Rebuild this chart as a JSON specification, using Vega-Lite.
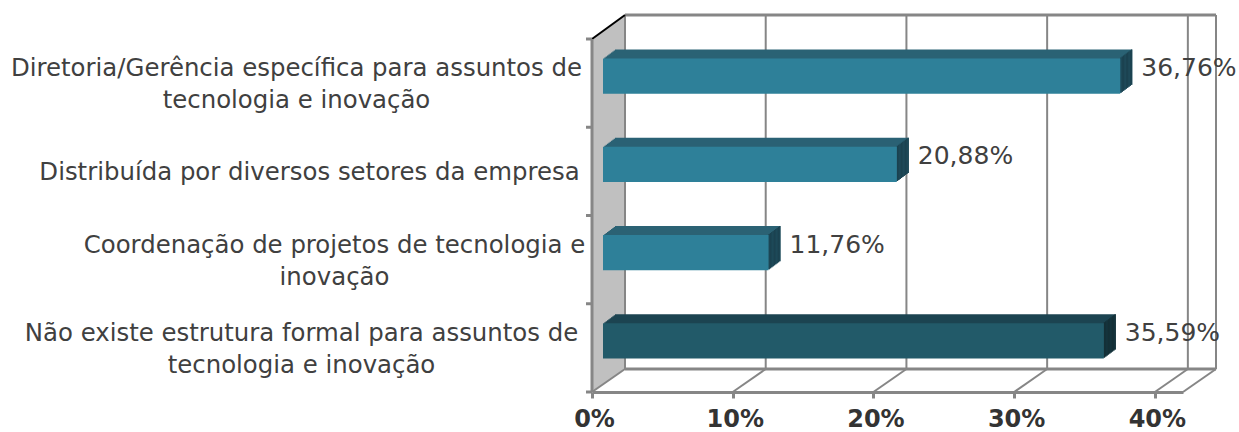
{"$schema":"https://vega.github.io/schema/vega-lite/v6.json","width":591,"height":353,"autosize":{"type":"none"},"padding":{"left":592,"top":39,"right":56,"bottom":40},"background":"white","config":{"view":{"stroke":null}},
"datasets":{"dados":[
{"estrutura":"Diretoria/Gerência específica para assuntos de tecnologia e inovação","valor":36.76,"rotulo":"36,76%","tipo":"formal"},
{"estrutura":"Distribuída por diversos setores da empresa","valor":20.88,"rotulo":"20,88%","tipo":"formal"},
{"estrutura":"Coordenação de projetos de tecnologia e inovação","valor":11.76,"rotulo":"11,76%","tipo":"formal"},
{"estrutura":"Não existe estrutura formal para assuntos de tecnologia e inovação","valor":35.59,"rotulo":"35,59%","tipo":"nenhuma"}],
"marcas":[{"m":0},{"m":10},{"m":20},{"m":30},{"m":40},{"m":42}],
"bandas":[{"b":0},{"b":0.25},{"b":0.5},{"b":0.75},{"b":1}],
"unico":[{"u":1}]},
"layer":[
{"layer":[
{"data":{"name":"unico"},"mark":{"type":"rect","color":"#c0c0c0","x2Offset":33,"y2Offset":-24},"encoding":{
"x":{"datum":0,"type":"quantitative","scale":{"domain":[0,42],"nice":false},"axis":{"values":[0,10,20,30,40],"labelExpr":"datum.value+'%'","grid":false,"domainColor":"#868686","domainWidth":3,"tickColor":"#868686","tickWidth":3,"tickSize":6,"labelFont":"DejaVu Sans","labelFontWeight":"bold","labelFontSize":24,"labelColor":"#333333","labelPadding":9,"labelOffset":2,"labelOverlap":false,"labelBound":false,"labelFlush":false,"title":null,"zindex":1}},
"x2":{"datum":0},
"y":{"datum":0,"type":"quantitative","scale":{"domain":[0,1],"nice":false},"axis":null},"y2":{"datum":1}}},
{"data":{"name":"unico"},"mark":{"type":"rule","color":"white","strokeWidth":20,"xOffset":-5.9,"yOffset":-8.1,"x2Offset":27.1,"y2Offset":-32.1},"encoding":{"x":{"datum":0,"type":"quantitative"},"x2":{"datum":0},"y":{"datum":1,"type":"quantitative"},"y2":{"datum":1}}},
{"data":{"name":"unico"},"mark":{"type":"rule","color":"white","strokeWidth":20,"xOffset":5.7,"yOffset":8.2,"x2Offset":38.7,"y2Offset":-14.8},"encoding":{"x":{"datum":0,"type":"quantitative"},"x2":{"datum":0},"y":{"datum":0,"type":"quantitative"},"y2":{"datum":0}}},
{"data":{"name":"marcas"},"mark":{"type":"rule","color":"#868686","strokeWidth":2,"xOffset":33,"x2Offset":33,"yOffset":-23,"y2Offset":-24},"encoding":{"x":{"field":"m","type":"quantitative"},"x2":{"field":"m"},"y":{"datum":0,"type":"quantitative"},"y2":{"datum":1}}},
{"data":{"name":"marcas"},"mark":{"type":"rule","color":"#868686","strokeWidth":2,"x2Offset":33,"y2Offset":-23},"encoding":{"x":{"field":"m","type":"quantitative"},"x2":{"field":"m"},"y":{"datum":0,"type":"quantitative"},"y2":{"datum":0}}},
{"data":{"name":"unico"},"mark":{"type":"rule","color":"#868686","strokeWidth":3,"xOffset":33,"x2Offset":33,"yOffset":-24,"y2Offset":-24},"encoding":{"x":{"datum":0,"type":"quantitative"},"x2":{"datum":42},"y":{"datum":1,"type":"quantitative"},"y2":{"datum":1}}},
{"data":{"name":"unico"},"mark":{"type":"rule","color":"#868686","strokeWidth":3,"xOffset":33,"x2Offset":33,"yOffset":-23,"y2Offset":-23},"encoding":{"x":{"datum":0,"type":"quantitative"},"x2":{"datum":42},"y":{"datum":0,"type":"quantitative"},"y2":{"datum":0}}},
{"data":{"name":"unico"},"mark":{"type":"rule","color":"black","strokeWidth":2,"x2Offset":33,"y2Offset":-24},"encoding":{"x":{"datum":0,"type":"quantitative"},"x2":{"datum":0},"y":{"datum":1,"type":"quantitative"},"y2":{"datum":1}}},
{"data":{"name":"unico"},"mark":{"type":"rule","color":"#868686","strokeWidth":3},"encoding":{"x":{"datum":0,"type":"quantitative"},"y":{"datum":0,"type":"quantitative"},"y2":{"datum":1}}},
{"data":{"name":"bandas"},"mark":{"type":"rule","color":"#868686","strokeWidth":3,"xOffset":-6},"encoding":{"x":{"datum":0,"type":"quantitative"},"x2":{"datum":0},"y":{"field":"b","type":"quantitative"}}}
]},
{"data":{"name":"dados"},"encoding":{
"y":{"field":"estrutura","type":"nominal","sort":null,"scale":{"paddingInner":0.6,"paddingOuter":0.3},"axis":{"orient":"left","title":null,"ticks":false,"domain":false,"labelAlign":"center","labelBaseline":"middle","labelExpr":"indexof(datum.label,'Coord')==0 ? split(replace(datum.label,/ inovação$/,'|inovação'),'|') : split(replace(datum.label,/ tecnologia e inovação$/,'|tecnologia e inovação'),'|')","labelFont":"DejaVu Sans","labelFontSize":24.4,"labelColor":"#404040","labelLineHeight":32,"labelLimit":800,"labelOverlap":false,"labelBound":false,"labelOffset":{"condition":{"test":"indexof(datum.value,'Distribu')==0","value":2},"value":-14},"labelPadding":{"condition":[{"test":"indexof(datum.value,'Diretoria')==0","value":296},{"test":"indexof(datum.value,'Distribu')==0","value":283},{"test":"indexof(datum.value,'Coordena')==0","value":258}],"value":291}}},
"x":{"field":"valor","type":"quantitative"}},
"layer":[
{"encoding":{"x2":{"datum":0},"color":{"condition":{"test":"datum.tipo=='nenhuma'","value":"#1c4552"},"value":"#2b6274"}},"layer":[
{"mark":{"type":"bar","xOffset":23,"x2Offset":23,"yOffset":-16,"y2Offset":-16}},
{"mark":{"type":"bar","xOffset":21.67,"x2Offset":21.67,"yOffset":-15,"y2Offset":-15}},
{"mark":{"type":"bar","xOffset":20.33,"x2Offset":20.33,"yOffset":-14,"y2Offset":-14}},
{"mark":{"type":"bar","xOffset":19,"x2Offset":19,"yOffset":-13,"y2Offset":-13}},
{"mark":{"type":"bar","xOffset":17.67,"x2Offset":17.67,"yOffset":-12,"y2Offset":-12}},
{"mark":{"type":"bar","xOffset":16.33,"x2Offset":16.33,"yOffset":-11,"y2Offset":-11}},
{"mark":{"type":"bar","xOffset":15,"x2Offset":15,"yOffset":-10,"y2Offset":-10}},
{"mark":{"type":"bar","xOffset":13.67,"x2Offset":13.67,"yOffset":-9,"y2Offset":-9}},
{"mark":{"type":"bar","xOffset":12.33,"x2Offset":12.33,"yOffset":-8,"y2Offset":-8}}
]},
{"encoding":{"x2":{"field":"valor"},"color":{"condition":{"test":"datum.tipo=='nenhuma'","value":"#142f36"},"value":"#1b4250"}},"layer":[
{"mark":{"type":"bar","xOffset":21.67,"x2Offset":23,"yOffset":-16,"y2Offset":-16}},
{"mark":{"type":"bar","xOffset":20.33,"x2Offset":21.67,"yOffset":-15,"y2Offset":-15}},
{"mark":{"type":"bar","xOffset":19,"x2Offset":20.33,"yOffset":-14,"y2Offset":-14}},
{"mark":{"type":"bar","xOffset":17.67,"x2Offset":19,"yOffset":-13,"y2Offset":-13}},
{"mark":{"type":"bar","xOffset":16.33,"x2Offset":17.67,"yOffset":-12,"y2Offset":-12}},
{"mark":{"type":"bar","xOffset":15,"x2Offset":16.33,"yOffset":-11,"y2Offset":-11}},
{"mark":{"type":"bar","xOffset":13.67,"x2Offset":15,"yOffset":-10,"y2Offset":-10}},
{"mark":{"type":"bar","xOffset":12.33,"x2Offset":13.67,"yOffset":-9,"y2Offset":-9}},
{"mark":{"type":"bar","xOffset":11,"x2Offset":12.33,"yOffset":-8,"y2Offset":-8}}
]},
{"mark":{"type":"bar","xOffset":11,"x2Offset":11,"yOffset":-7,"y2Offset":-7},"encoding":{"x2":{"datum":0},"color":{"condition":{"test":"datum.tipo=='nenhuma'","value":"#225a69"},"value":"#2e8099"}}},
{"mark":{"type":"text","align":"left","baseline":"middle","xOffset":32,"yOffset":-15,"font":"DejaVu Sans","fontSize":25,"color":"#404040"},"encoding":{"text":{"field":"rotulo","type":"nominal"}}}
]}
],"resolve":{"scale":{"y":"independent"}}}
